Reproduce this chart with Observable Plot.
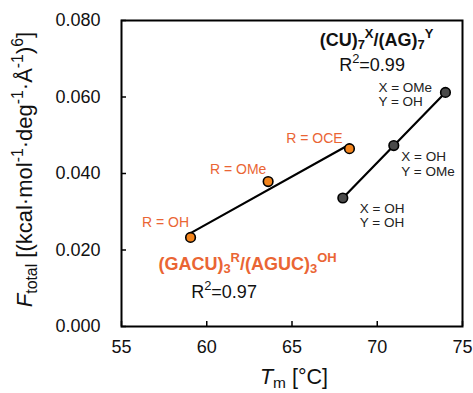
<!DOCTYPE html>
<html>
<head>
<meta charset="utf-8">
<script src="https://cdn.jsdelivr.net/npm/d3@7"></script>
<script src="https://cdn.jsdelivr.net/npm/@observablehq/plot@0.6"></script>
<style>
  html, body { margin: 0; padding: 0; background: #fff; }
  svg { font-family: "Liberation Sans", Arial, Helvetica, sans-serif; }
</style>
</head>
<body>
<div id="chart"></div>
<script>
// ---- data ----
const tmOrange = [59.05, 63.6, 68.37];
const fOrange = [0.0233, 0.0379, 0.0465];
const labelsOrange = ["R = OH", "R = OMe", "R = OCE"];

const tmBlack = [67.98, 70.97, 74.0];
const fBlack = [0.0336, 0.0473, 0.0612];
const labelsBlack = ["X = OH\nY = OH", "X = OH\nY = OMe", "X = OMe\nY = OH"];

const xTicks = [55, 60, 65, 70, 75];
const yTicks = [0, 0.02, 0.04, 0.06, 0.08];

const titleOrange = "(GACU)_{3}^{R}/(AGUC)_{3}^{OH}";
const r2Orange = "R^{2}=0.97";
const titleBlack = "(CU)_{7}^{X}/(AG)_{7}^{Y}";
const r2Black = "R^{2}=0.99";
const xLabel = "*T*_{m} [°C]";
const yLabel = "*F*_{total} [(kcal·mol^{-1}·deg^{-1}·Å^{-1})^{6}]";

// ---- build tables ----
const orange = tmOrange.map((x, i) => ({x, y: fOrange[i], label: labelsOrange[i], i}));
const black = tmBlack.map((x, i) => ({x, y: fBlack[i], label: labelsBlack[i], i}));

// ---- layout (px) ----
const W = 473, H = 393;
const mL = 121, mR = 11, mT = 20, mB = 67;
const frameW = W - mL - mR, frameH = H - mT - mB;
const ORANGE_TXT = "#ea6534";
const ORANGE_PT = "#f3841c";
const orangeOffsets = [[-25, -10], [-30, -8], [-35, -6]];
const blackOffsets = [[17, 29], [7.5, 30], [-67, 14]];

const marks = [
  Plot.frame({stroke: "black", strokeWidth: 2}),
  Plot.tickX(xTicks, {x: d => d, insetTop: frameH - 5, stroke: "black", strokeWidth: 1.5}),
  Plot.tickY(yTicks, {y: d => d, insetRight: frameW - 5, stroke: "black", strokeWidth: 1.5}),
  Plot.axisX({ticks: xTicks, tickSize: 0, tickPadding: 14, fontSize: 18, tickFormat: d3.format("d"), label: null}),
  Plot.axisY({ticks: yTicks, tickSize: 0, tickPadding: 21, fontSize: 18, tickFormat: d3.format(".3f"), label: null}),
  Plot.linearRegressionY(orange, {x: "x", y: "y", ci: 0, stroke: "black", strokeWidth: 2.2}),
  Plot.linearRegressionY(black, {x: "x", y: "y", ci: 0, stroke: "black", strokeWidth: 2.2}),
  Plot.dot(orange, {x: "x", y: "y", r: 4.8, fill: ORANGE_PT, stroke: "black", strokeWidth: 1.6}),
  Plot.dot(black, {x: "x", y: "y", r: 4.8, fill: "#4a4a4a", stroke: "black", strokeWidth: 1.6}),
];
orangeOffsets.forEach(([dx, dy], k) => {
  marks.push(Plot.text(orange.filter(d => d.i === k), {x: "x", y: "y", text: "label", dx, dy,
    textAnchor: "middle", lineAnchor: "bottom", fill: ORANGE_TXT, fontSize: 14}));
});
blackOffsets.forEach(([dx, dy], k) => {
  marks.push(Plot.text(black.filter(d => d.i === k), {x: "x", y: "y", text: "label", dx, dy,
    textAnchor: "start", lineAnchor: "bottom", fill: "#222", fontSize: 13.5, lineHeight: 1.06}));
});
marks.push(
  Plot.text([titleBlack], {text: d => d, frameAnchor: "top-left", dx: 255, dy: 25, textAnchor: "middle", lineAnchor: "bottom", fontSize: 18, fontWeight: "bold", fill: "#111"}),
  Plot.text([r2Black], {text: d => d, frameAnchor: "top-left", dx: 250.5, dy: 50, textAnchor: "middle", lineAnchor: "bottom", fontSize: 18, fill: "#111"}),
  Plot.text([titleOrange], {text: d => d, frameAnchor: "top-left", dx: 126, dy: 249, textAnchor: "middle", lineAnchor: "bottom", fontSize: 18, fontWeight: "bold", fill: ORANGE_TXT}),
  Plot.text([r2Orange], {text: d => d, frameAnchor: "top-left", dx: 102.5, dy: 277, textAnchor: "middle", lineAnchor: "bottom", fontSize: 18, fill: "#111"}),
  Plot.text([xLabel], {text: d => d, frameAnchor: "bottom", dx: 2, dy: 57, textAnchor: "middle", lineAnchor: "bottom", fontSize: 21.5, fill: "#111"}),
  Plot.text([yLabel], {text: d => d, frameAnchor: "left", dx: 31.7 - mL, dy: -4, rotate: -90, textAnchor: "middle", lineAnchor: "bottom", fontSize: 22, fill: "#111"})
);

const chart = Plot.plot({
  width: W, height: H,
  marginLeft: mL, marginRight: mR, marginTop: mT, marginBottom: mB,
  x: {domain: [55, 75]},
  y: {domain: [0, 0.08]},
  style: {background: "white", color: "#111", fontFamily: "'Liberation Sans', Arial, Helvetica, sans-serif", overflow: "visible"},
  marks
});
document.getElementById("chart").appendChild(chart);

// ---- rich text: _{sub}, ^{sup}, *italic* ----
function richify(svg) {
  const NS = "http://www.w3.org/2000/svg";
  svg.querySelectorAll("text").forEach(t => {
    if (t.querySelector("tspan")) return;
    const s = t.textContent;
    if (!/[_^]\{|\*/.test(s)) return;
    const fs = parseFloat(getComputedStyle(t).fontSize) || 16;
    while (t.firstChild) t.removeChild(t.firstChild);
    let cur = 0;
    const parts = s.split(/(_\{[^}]*\}|\^\{[^}]*\}|\*[^*]+\*)/).filter(p => p);
    for (const p of parts) {
      const ts = document.createElementNS(NS, "tspan");
      let target = 0, txt = p, small = false, italic = false;
      if (p.startsWith("_{")) { target = 0.22 * fs; txt = p.slice(2, -1); small = true; }
      else if (p.startsWith("^{")) { target = -0.4 * fs; txt = p.slice(2, -1); small = true; }
      else if (p.startsWith("*")) { txt = p.slice(1, -1); italic = true; }
      if (target - cur !== 0) ts.setAttribute("dy", target - cur);
      cur = target;
      if (small) ts.setAttribute("font-size", (0.72 * fs).toFixed(2));
      if (italic) ts.setAttribute("font-style", "italic");
      ts.textContent = txt;
      t.appendChild(ts);
    }
  });
}
richify(chart);
</script>
</body>
</html>
